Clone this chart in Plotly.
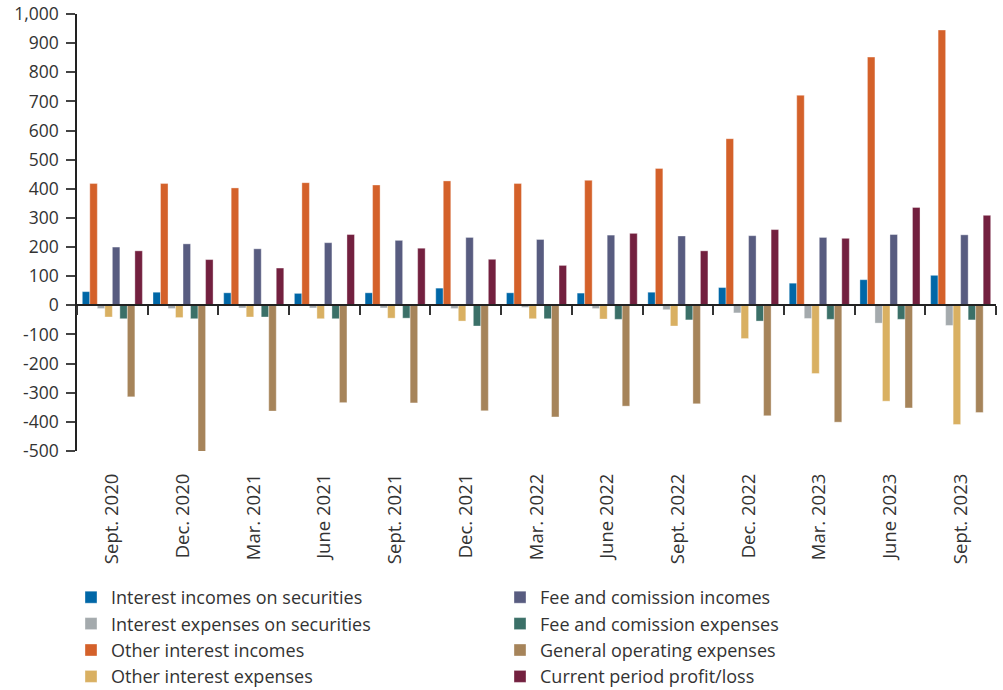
import plotly.graph_objects as go

quarters = ["Sept. 2020", "Dec. 2020", "Mar. 2021", "June 2021", "Sept. 2021", "Dec. 2021",
            "Mar. 2022", "June 2022", "Sept. 2022", "Dec. 2022", "Mar. 2023", "June 2023", "Sept. 2023"]

interest_inc_sec = [47, 45, 43, 41, 43, 59, 43, 42, 45, 61, 76, 88, 103]
other_interest_inc = [418, 418, 403, 421, 413, 427, 418, 429, 470, 572, 721, 852, 945]
interest_exp_sec = [-11, -11, -9, -9, -9, -11, -7, -11, -15, -26, -45, -61, -69]
other_interest_exp = [-40, -42, -40, -46, -44, -54, -46, -47, -71, -114, -234, -329, -409]
fee_inc = [200, 211, 194, 215, 223, 233, 226, 241, 238, 239, 233, 243, 242]
fee_exp = [-46, -46, -40, -46, -44, -71, -46, -48, -50, -54, -48, -48, -50]
gen_op_exp = [-314, -523, -363, -334, -335, -362, -383, -346, -338, -379, -401, -352, -368]
profit_loss = [187, 157, 128, 243, 196, 158, 137, 247, 187, 260, 230, 336, 309]

y_tick_vals = [1000, 900, 800, 700, 600, 500, 400, 300, 200, 100, 0, -100, -200, -300, -400, -500]
y_tick_text = ["1,000", "900", "800", "700", "600", "500", "400", "300", "200", "100", "0",
               "-100", "-200", "-300", "-400", "-500"]

series = [
    ("Interest incomes on securities", interest_inc_sec, "#0067A7", "legend", 1),
    ("Other interest incomes", other_interest_inc, "#D4612A", "legend", 3),
    ("Interest expenses on securities", interest_exp_sec, "#A4AAAD", "legend", 2),
    ("Other interest expenses", other_interest_exp, "#D9B062", "legend", 4),
    ("Fee and comission incomes", fee_inc, "#585C80", "legend2", 1),
    ("Fee and comission expenses", fee_exp, "#3B7068", "legend2", 2),
    ("General operating expenses", gen_op_exp, "#A6845A", "legend2", 3),
    ("Current period profit/loss", profit_loss, "#73203F", "legend2", 4),
]

FONT = "Open Sans"
FS_TICK = 17.5
FS_XTICK = 18.5
FS_LEG = 18
TXT = "#333333"

W, H = 1003, 690
Y_MIN, Y_MAX = -500, 1000

fig = go.Figure()
for name, vals, color, leg, rank in series:
    fig.add_trace(go.Bar(
        x=quarters, y=vals, name=name,
        marker=dict(color=color, line=dict(width=0.6, color="rgba(255,255,255,0.6)")),
        legend=leg, legendrank=rank, legendgroup=name,
    ))

# helper trace for the zero-line category axis with boundary ticks
fig.add_trace(go.Scatter(x=quarters, y=[None] * len(quarters), xaxis="x2",
                         showlegend=False, hoverinfo="skip", mode="markers"))

fig.update_layout(
    width=W, height=H,
    margin=dict(l=77, r=7, t=14, b=239, autoexpand=False),
    paper_bgcolor="white", plot_bgcolor="white",
    font=dict(family=FONT, size=FS_TICK, color=TXT),
    barmode="group", bargap=0.15, bargroupgap=0,
    xaxis=dict(
        type="category", categoryarray=quarters, range=[-0.5, 12.5],
        showline=False, showgrid=False, zeroline=False, ticks="",
        tickangle=-90, tickfont=dict(size=FS_XTICK, color=TXT, family=FONT),
        ticklabelstandoff=18, automargin=False,
    ),
    xaxis2=dict(
        type="category", categoryarray=quarters, range=[-0.5, 12.5],
        overlaying="x", anchor="free", position=(0 - Y_MIN) / (Y_MAX - Y_MIN),
        showline=True, linecolor="#222222", linewidth=1.5,
        ticks="outside", ticklen=9, tickwidth=1.5, tickcolor="#333333",
        tickson="boundaries", showticklabels=False, showgrid=False, zeroline=False,
        automargin=False,
    ),
    yaxis=dict(
        range=[Y_MIN, Y_MAX], tickvals=y_tick_vals, ticktext=y_tick_text,
        showline=True, linecolor="#222222", linewidth=1.5,
        ticks="outside", ticklen=9, tickwidth=1.5, tickcolor="#444444",
        showgrid=False, zeroline=False, automargin=False,
        tickfont=dict(size=FS_TICK, color=TXT, family=FONT),
        ticklabelstandoff=4, ticklabeloverflow="allow",
    ),
    legend=dict(
        xref="container", yref="container", x=71 / W, y=1 - 579 / H,
        xanchor="left", yanchor="top", orientation="v",
        font=dict(size=FS_LEG, color=TXT, family=FONT), tracegroupgap=7,
        traceorder="normal", bgcolor="rgba(0,0,0,0)",
    ),
    legend2=dict(
        xref="container", yref="container", x=500 / W, y=1 - 579 / H,
        xanchor="left", yanchor="top", orientation="v",
        font=dict(size=FS_LEG, color=TXT, family=FONT), tracegroupgap=7,
        traceorder="normal", bgcolor="rgba(0,0,0,0)",
    ),
    showlegend=True,
)

fig.write_html("out.html", config={"displayModeBar": False},
               post_script="document.body.style.margin='0';")
